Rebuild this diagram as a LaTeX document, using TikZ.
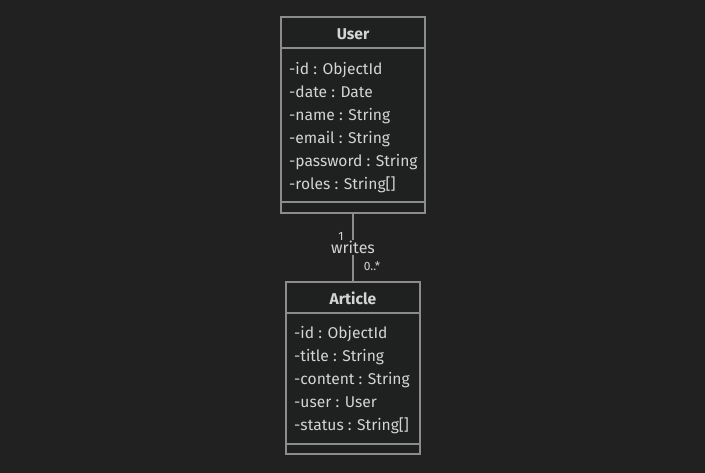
\documentclass[tikz,border=0pt]{standalone}
\usepackage{fontspec}
\setmainfont{Fira Sans}
\definecolor{bg}{HTML}{212121}
\definecolor{boxfill}{HTML}{1F2020}
\definecolor{edge}{HTML}{8C8C8C}
\definecolor{txt}{HTML}{D4D4D4}
\tikzset{
  classbox/.style={draw=edge, fill=boxfill, line width=1.3pt, inner sep=0pt},
  divider/.style={draw=edge, line width=1.3pt},
  attr/.style={anchor=base west, text=txt, inner sep=0pt, font=\fontsize{15.6}{18}\selectfont},
  title/.style={anchor=base, text=txt, inner sep=0pt, font=\fontsize{15.6}{18}\selectfont\bfseries},
  mult/.style={text=txt, inner sep=0pt, font=\fontsize{12}{14}\selectfont},
  conn/.style={draw=edge, line width=1.3pt},
  lbl/.style={fill=bg, text=txt, inner sep=1pt, font=\fontsize{16}{18}\selectfont}
}
\begin{document}
\begin{tikzpicture}[x=1pt,y=-1pt]
\fill[bg] (0,0) rectangle (705,473);
\useasboundingbox (0,0) rectangle (705,473);
% User class
\node[classbox, minimum width=144pt, minimum height=196pt] (user) at (353,115) {};
\draw[divider] (281,48) -- (425,48);
\draw[divider] (281,202) -- (425,202);
\node[title] (ut) at (353,39.5) {User};
\node[attr] (u1) at (289,74.5) {-id : ObjectId};
\node[attr] (u2) at (289,97.5) {-date : Date};
\node[attr] (u3) at (289,120.5) {-name : String};
\node[attr] (u4) at (289,143.5) {-email : String};
\node[attr] (u5) at (289,166.5) {-password : String};
\node[attr] (u6) at (289,189.5) {-roles : String[]};
% Article class
\node[classbox, minimum width=134pt, minimum height=172pt] (article) at (353,368) {};
\draw[divider] (286,313) -- (420,313);
\draw[divider] (286,444) -- (420,444);
\node[title] (at) at (353,304.5) {Article};
\node[attr] (a1) at (294,338.5) {-id : ObjectId};
\node[attr] (a2) at (294,361.5) {-title : String};
\node[attr] (a3) at (294,384.5) {-content : String};
\node[attr] (a4) at (294,407.5) {-user : User};
\node[attr] (a5) at (294,430.5) {-status : String[]};
% association
\draw[conn] (user.south) -- node[lbl, midway] (w) {writes} (article.north);
\node[mult] (m1) at (341,236) {1};
\node[mult] (m2) at (372,266) {0..*};
\end{tikzpicture}
\end{document}
